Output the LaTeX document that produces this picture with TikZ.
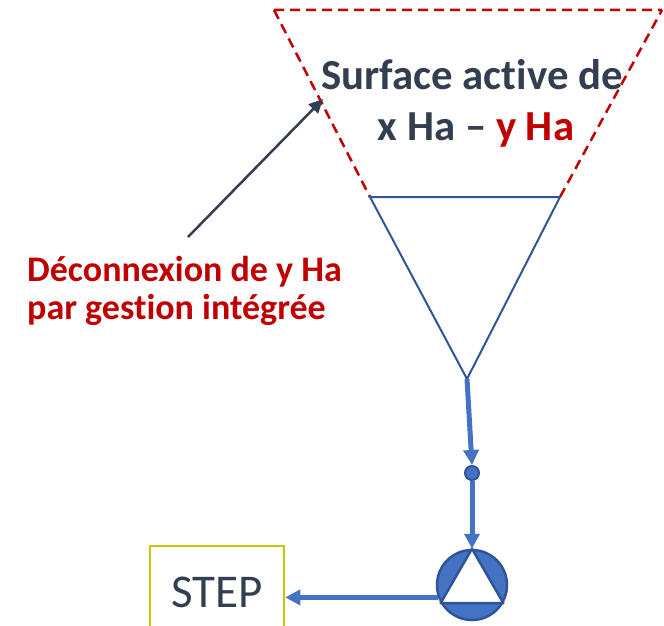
\documentclass[tikz,border=0pt]{standalone}
\usepackage{fontspec}
\setmainfont{Carlito}[Ligatures={TeX,NoCommon}]
\usetikzlibrary{arrows.meta}
\definecolor{dkred}{HTML}{C00000}
\definecolor{slate}{HTML}{333F50}
\definecolor{pipe}{HTML}{4472C4}
\definecolor{edge}{HTML}{2F5597}
\definecolor{olive}{HTML}{C8C800}
\tikzstyle{flow}=[line width=5pt, draw=pipe, -{Triangle[length=15pt,width=15pt]}]
\tikzstyle{title}=[inner sep=0, text=slate, font=\fontsize{42.8}{50}\selectfont\bfseries]
\tikzstyle{note}=[inner sep=0, text=dkred, font=\fontsize{36}{40}\selectfont\bfseries]

\begin{document}
\begin{tikzpicture}[x=1pt,y=-1pt]
\useasboundingbox (0,0) rectangle (664,626);
\clip (0,0) rectangle (664,626);
% catchment triangle
\coordinate (tl) at (370,197);
\coordinate (tr) at (560,197);
\coordinate (bot) at (467,379);
\draw[dkred, line width=2.5pt, dash pattern=on 10pt off 6pt]
	(274,10) -- (tl) (tr) -- (662,10) (274,10) -- (662,10);
\draw[edge, line width=2pt, line join=miter] (tl)--(tr)--(bot)--cycle;
\node[title, anchor=base] (surf) at (472,89) {Surface active de};
\node[title, anchor=base] (area) at (476,140) {x Ha – \textcolor{dkred}{y Ha}};
\node[note, anchor=base west] (dec1) at (27,281) {Déconnexion de y Ha};
\node[note, anchor=base west] (dec2) at (27,319) {par gestion intégrée};
\coordinate (tail) at (188,237);
\coordinate (tip) at (323,99);
\draw[slate, line width=2.5pt, -{Triangle[length=14pt,width=13pt]}] (tail) -- (tip);
% network
\node[circle, minimum size=14pt, inner sep=0, fill=pipe, draw=edge, line width=2pt]
	(joint) at (472,473){};
\node[circle, minimum size=70pt, inner sep=0, fill=pipe, draw=edge, line width=2.5pt]
	(pump) at (472,585){};
\draw[edge, fill=white, line width=2.5pt, line join=round]
	(pump.90)--(pump.210)--(pump.330)--cycle;
\node[draw=olive, line width=2.5pt, minimum width=134pt, minimum height=92pt,
	text=slate, font=\fontsize{47}{50}\selectfont] (stp) at (217,592) {STEP};
\draw[flow] (bot) -- (joint.north);
\draw[flow] (joint.south) -- (pump.north);
\draw[flow] (pump.200) -- (pump.200 -| stp.east);
\end{tikzpicture}
\end{document}
